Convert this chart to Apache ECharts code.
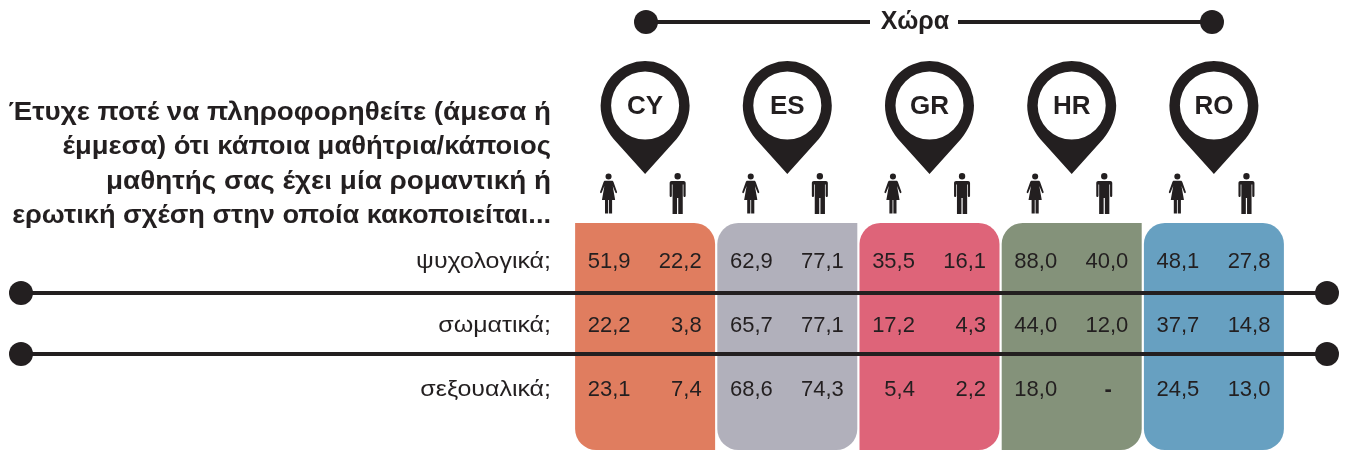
<!DOCTYPE html>
<html>
<head>
<meta charset="utf-8">
<style>
  html, body { margin: 0; padding: 0; background: #fff; }
  #chartmain { width: 1346px; height: 450px; }
</style>
<script src="https://cdn.jsdelivr.net/npm/echarts@6/dist/echarts.min.js"></script>
</head>
<body>
<div id="chartmain"></div>
<script>
var countries = ['CY', 'ES', 'GR', 'HR', 'RO'];
var genders = ['γυναίκες', 'άνδρες'];
var rows = ['ψυχολογικά;', 'σωματικά;', 'σεξουαλικά;'];
// women, men per country, in the order of countries. null = "-"
var psychological = [51.9, 22.2, 62.9, 77.1, 35.5, 16.1, 88.0, 40.0, 48.1, 27.8];
var physical = [22.2, 3.8, 65.7, 77.1, 17.2, 4.3, 44.0, 12.0, 37.7, 14.8];
var sexual = [23.1, 7.4, 68.6, 74.3, 5.4, 2.2, 18.0, null, 24.5, 13.0];
var questionLines = [
  'Έτυχε ποτέ να πληροφορηθείτε (άμεσα ή',
  'έμμεσα) ότι κάποια μαθήτρια/κάποιος',
  'μαθητής σας έχει μία ρομαντική ή',
  'ερωτική σχέση στην οποία κακοποιείται...'
];
var headerTitle = 'Χώρα';

var ink = '#231f20';
var font = '"Liberation Sans", Arial, sans-serif';
var panelColors = ['#e07d5f', '#b1b0bb', '#de6479', '#84927a', '#67a0c1'];
var r = 21;
// tl, tr, br, bl
var panelCorners = [[0, r, 0, r], [r, 0, r, r], [r, r, r, 0], [r, 0, r, 0], [r, r, r, r]];
var questionStretch = [1.11, 1.097, 1.115, 1.088];

var pinPath = 'path://M0 44.5A44.5 44.5 0 0 1 89 44.5C89 57 84 68 76 78L44.5 113L13 78C5 68 0 57 0 44.5Z' +
  'M10.5 44.5A34 34 0 0 0 78.5 44.5A34 34 0 0 0 10.5 44.5Z';
var womanPath = 'path://M5.5 3.3A3 3 0 1 1 11.5 3.3A3 3 0 1 1 5.5 3.3Z' +
  'M5.2 7.5L11.8 7.5C12.6 7.5 13 7.9 13.3 8.6L16.8 18.5C17.2 19.8 15.7 20.3 15.2 19.2L12.6 12.6L15 26.5L12 26.5L12 40L8.9 40L8.9 26.5L8.1 26.5L8.1 40L5 40L5 26.5L2 26.5L4.4 12.6L1.8 19.2C1.3 20.3 -0.2 19.8 0.2 18.5L3.7 8.6C4 7.9 4.4 7.5 5.2 7.5Z';
var manPath = 'path://M5 3.2A3.2 3.2 0 1 1 11.4 3.2A3.2 3.2 0 1 1 5 3.2Z' +
  'M2.2 8L14.2 8C15.4 8 16.2 8.8 16.2 10L16.2 22.8C16.2 24.4 14 24.4 14 22.8L14 11.5L13.3 11.5L13.3 41L8.8 41L8.8 25L7.6 25L7.6 41L3.1 41L3.1 11.5L2.4 11.5L2.4 22.8C2.4 24.4 0.2 24.4 0.2 22.8L0.2 10C0.2 8.8 1 8 2.2 8Z';

// one column per country and gender
var columns = [];
countries.forEach(function (c) {
  genders.forEach(function (g) {
    columns.push(c + ' ' + g);
  });
});

var cells = [];
[psychological, physical, sexual].forEach(function (list, rowIndex) {
  list.forEach(function (v, colIndex) {
    var item = { value: [colIndex, rowIndex, v] };
    if (v === null) {
      item.label = { align: 'center', offset: [1, 0], fontWeight: 'bold' };
    }
    cells.push(item);
  });
});

var womenIcons = [], menIcons = [];
columns.forEach(function (c, i) {
  (i % 2 === 0 ? womenIcons : menIcons).push([i, 0]);
});

function hiddenCategory(data, gridIndex) {
  return {
    type: 'category', data: data, gridIndex: gridIndex,
    axisLine: { show: false }, axisTick: { show: false }, axisLabel: { show: false }, splitLine: { show: false }
  };
}

// dividers and the header rule are page furniture, not data
function dividerGraphics(y, x1, x2) {
  return [
    { type: 'line', z: 10, shape: { x1: x1, y1: y, x2: x2, y2: y }, style: { stroke: ink, lineWidth: 4 } },
    { type: 'circle', z: 10, shape: { cx: x1, cy: y, r: 12 }, style: { fill: ink } },
    { type: 'circle', z: 10, shape: { cx: x2, cy: y, r: 12 }, style: { fill: ink } }
  ];
}

// the original type is wider than Liberation Sans, hence the scaleX on the left hand text
function leftText(text, y, fontCss, stretch) {
  return {
    type: 'text', z: 12, x: 551, y: y, scaleX: stretch,
    style: { text: text, fill: ink, font: fontCss, align: 'right', verticalAlign: 'middle' }
  };
}

var graphics = dividerGraphics(293, 21, 1327).concat(dividerGraphics(354, 21, 1327), dividerGraphics(22, 646, 1212));
graphics.push({
  type: 'rect', z: 11, shape: { x: 870, y: 8, width: 88, height: 28 }, style: { fill: '#fff' }
});
graphics.push({
  type: 'text', z: 12, x: 915, y: 22,
  style: { text: headerTitle, fill: ink, font: 'bold 25px ' + font, align: 'center', verticalAlign: 'middle' }
});
questionLines.forEach(function (line, i) {
  graphics.push(leftText(line, 113 + i * 34.5, 'bold 25px ' + font, questionStretch[i]));
});

var option = {
  animation: false,
  backgroundColor: '#fff',
  grid: [
    { left: 574, width: 711, top: 223, height: 227 },
    { left: 574, width: 711, top: 230, height: 192 },
    { left: 574, width: 711, top: 61, height: 113 },
    { left: 574, width: 711, top: 173, height: 41 }
  ],
  xAxis: [
    hiddenCategory(countries, 0),
    hiddenCategory(columns, 1),
    hiddenCategory(countries, 2),
    hiddenCategory(columns, 3)
  ],
  yAxis: [
    { type: 'value', gridIndex: 0, min: 0, max: 1, show: false },
    {
      type: 'category', gridIndex: 1, data: rows, inverse: true,
      axisLine: { show: false }, axisTick: { show: false }, axisLabel: { show: false }, splitLine: { show: false }
    },
    hiddenCategory(['pin'], 2),
    hiddenCategory(['icon'], 3)
  ],
  series: [
    {
      type: 'bar', xAxisIndex: 0, yAxisIndex: 0, barWidth: 140, silent: true,
      data: countries.map(function (c, i) {
        return {
          value: 1,
          itemStyle: { color: panelColors[i], borderRadius: panelCorners[i] }
        };
      })
    },
    {
      type: 'scatter', xAxisIndex: 1, yAxisIndex: 1, symbolSize: 1, silent: true,
      itemStyle: { color: 'rgba(0,0,0,0)', opacity: 1 },
      data: cells,
      z: 5,
      label: {
        show: true, position: 'inside', align: 'right', offset: [21, 0],
        color: ink, fontFamily: font, fontSize: 22,
        formatter: function (p) {
          return p.value[2] === null ? '-' : p.value[2].toFixed(1).replace('.', ',');
        }
      }
    },
    {
      type: 'scatter', xAxisIndex: 2, yAxisIndex: 2, symbol: pinPath, symbolSize: [89, 113], silent: true,
      itemStyle: { color: ink, opacity: 1 },
      data: countries.map(function (c, i) { return [i, 0, c]; }),
      label: {
        show: true, position: 'inside', offset: [0, -11],
        color: ink, fontFamily: font, fontWeight: 'bold', fontSize: 26,
        formatter: function (p) { return p.value[2]; }
      }
    },
    {
      type: 'scatter', xAxisIndex: 3, yAxisIndex: 3, symbol: womanPath, symbolSize: [17, 40], silent: true,
      symbolOffset: [-1, 0], itemStyle: { color: ink, opacity: 1 }, data: womenIcons
    },
    {
      type: 'scatter', xAxisIndex: 3, yAxisIndex: 3, symbol: manPath, symbolSize: [16, 41], silent: true,
      symbolOffset: [-3, 0], itemStyle: { color: ink, opacity: 1 }, data: menIcons
    }
  ]
};

var myChart = echarts.init(document.getElementById('chartmain'));
myChart.setOption(option);

// row names sit on the same bands as the table rows
rows.forEach(function (name) {
  var y = myChart.convertToPixel({ yAxisIndex: 1 }, name);
  graphics.push(leftText(name, y, '22.5px ' + font, 1.11));
});
myChart.setOption({ graphic: graphics });
</script>
</body>
</html>
